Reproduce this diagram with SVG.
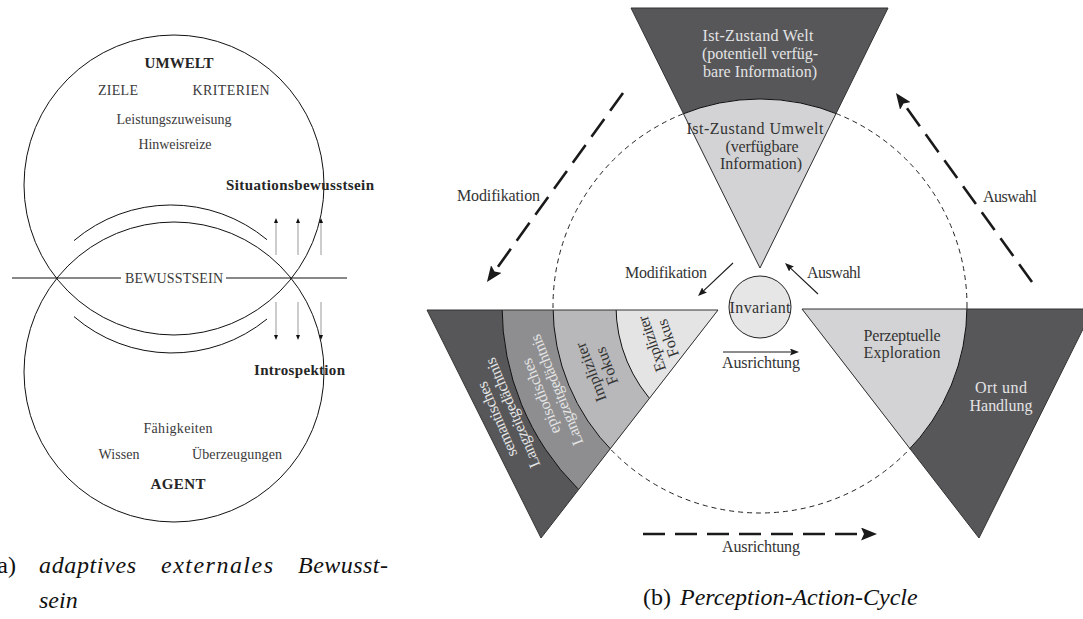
<svg xmlns="http://www.w3.org/2000/svg" width="1083" height="619" viewBox="0 0 1083 619">
<style>
text{font-family:"Liberation Serif","Times New Roman",serif;}
.l{font-size:14px;fill:#3a3a3a;text-anchor:middle}
.lb{font-size:15px;fill:#262626;font-weight:bold}
.r{font-size:16px;fill:#333;text-anchor:middle}
.rw{font-size:16px;fill:#e4e4e4;text-anchor:middle}
.ln{fill:none;stroke:#111;stroke-width:1}
.cap{font-size:24px;fill:#111}
.dash{fill:none;stroke:#1a1a1a;stroke-width:2.6;stroke-dasharray:22 10}
.sa{fill:none;stroke:#1a1a1a;stroke-width:1.1}
.ga{fill:none;stroke:#999;stroke-width:1}
.tri{fill:none;stroke:#333;stroke-width:1}
</style>
<defs>
<marker id="hB" markerUnits="userSpaceOnUse" markerWidth="17" markerHeight="13" refX="6" refY="6.5" orient="auto"><path d="M0,0 L16,6.5 L0,13 L3,6.5 z" fill="#1a1a1a"/></marker>
<marker id="hS" markerUnits="userSpaceOnUse" markerWidth="9" markerHeight="7" refX="3" refY="3.5" orient="auto"><path d="M0,0 L9,3.5 L0,7 L1.5,3.5 z" fill="#1a1a1a"/></marker>
<marker id="hT" markerUnits="userSpaceOnUse" markerWidth="5" markerHeight="4" refX="1" refY="2" orient="auto"><path d="M0,0 L5,2 L0,4 z" fill="#111"/></marker>
<clipPath id="cL"><polygon points="427,310 718,310 541,538"/></clipPath>
<clipPath id="cT"><polygon points="631,8 888,8 760,268"/></clipPath>
<clipPath id="cR"><polygon points="802,309 1093,309 979,538"/></clipPath>
</defs>
<rect width="1083" height="619" fill="#fff"/>

<!-- (a) left diagram -->
<g id="umwelt">
<circle cx="174" cy="185" r="150" class="ln"/>
<text class="lb" x="179" y="68" text-anchor="middle" textLength="69">UMWELT</text>
<text class="l" x="118" y="95" textLength="40">ZIELE</text>
<text class="l" x="231" y="95" textLength="77">KRITERIEN</text>
<text class="l" x="174" y="124" textLength="115">Leistungszuweisung</text>
<text class="l" x="175" y="149" textLength="73">Hinweisreize</text>
</g>
<g id="agent">
<circle cx="174" cy="372" r="150" class="ln"/>
<text class="l" x="178" y="433" textLength="69">Fähigkeiten</text>
<text class="l" x="119" y="459" textLength="41">Wissen</text>
<text class="l" x="237" y="459" textLength="90">Überzeugungen</text>
<text class="lb" x="178" y="489" text-anchor="middle" textLength="55">AGENT</text>
</g>
<g id="bewusstsein">
<path d="M74,240.6 A150,150 0 0 1 267,239.7" class="ln"/>
<path d="M74,316.6 A150,150 0 0 0 267,319" class="ln"/>
<path d="M12,278 H121 M226,278 H347" class="ln"/>
<text class="l" x="174" y="283" textLength="98">BEWUSSTSEIN</text>
</g>
<g id="situationsbewusstsein">
<text class="lb" x="226" y="190" textLength="148">Situationsbewusstsein</text>
</g>
<g id="introspektion">
<text class="lb" x="254" y="375" textLength="91">Introspektion</text>
</g>
<g id="caption-a">
<text class="cap" x="16" y="573" text-anchor="end">(a)</text>
<text class="cap" x="39" y="573" font-style="italic" textLength="97">adaptives</text>
<text class="cap" x="161" y="573" font-style="italic" textLength="112">externales</text>
<text class="cap" x="298" y="573" font-style="italic" textLength="90">Bewusst-</text>
<text class="cap" x="39" y="608" font-style="italic">sein</text>
</g>

<!-- (b) right diagram -->
<circle id="cycle" cx="760" cy="306" r="207" fill="none" stroke="#222" stroke-width="1" stroke-dasharray="5 4"/>

<g id="welt">
<g clip-path="url(#cT)">
<rect x="625" y="0" width="270" height="275" fill="#57575a"/>
<circle cx="760" cy="306" r="207" fill="#d3d3d5" stroke="#111" stroke-width="1"/>
</g>
<polygon points="631,8 888,8 760,268" class="tri"/>
<text class="rw" x="758" y="41" textLength="111">Ist-Zustand Welt</text>
<text class="rw" x="760" y="59" textLength="116">(potentiell verfüg-</text>
<text class="rw" x="760" y="77" textLength="114">bare Information)</text>
<text class="r" x="755" y="134" textLength="137">Ist-Zustand Umwelt</text>
<text class="r" x="762" y="152" textLength="73">(verfügbare</text>
<text class="r" x="761" y="169" textLength="82">Information)</text>
</g>

<g id="gedaechtnis">
<g clip-path="url(#cL)">
<rect x="420" y="300" width="310" height="250" fill="#57575a"/>
<circle cx="760" cy="306" r="258" fill="#8e8e90" stroke="#111" stroke-width="1"/>
<circle cx="760" cy="306" r="207" fill="#b8b8ba" stroke="#111" stroke-width="1"/>
<circle cx="760" cy="306" r="144" fill="#e4e4e5" stroke="#111" stroke-width="1"/>
</g>
<polygon points="427,310 718,310 541,538" class="tri"/>
<g transform="translate(505,416) rotate(-113)">
<text class="rw" x="0" y="-3.5" textLength="80">semantisches</text>
<text class="rw" x="0" y="13.5" textLength="118">Langzeitgedächtnis</text>
</g>
<g transform="translate(549,393) rotate(-112)">
<text class="rw" x="0" y="-3.5" textLength="80">episodisches</text>
<text class="rw" x="0" y="13.5" textLength="118">Langzeitgedächtnis</text>
</g>
<g transform="translate(599,369) rotate(-111)">
<text class="r" x="0" y="-3.5" textLength="62">Impliziter</text>
<text class="r" x="0" y="13.5">Fokus</text>
</g>
<g transform="translate(660,341) rotate(-109)">
<text class="r" x="0" y="-3.5" textLength="58">Expliziter</text>
<text class="r" x="0" y="13.5">Fokus</text>
</g>
</g>

<g id="handlung">
<g clip-path="url(#cR)">
<rect x="795" y="300" width="300" height="245" fill="#57575a"/>
<circle cx="760" cy="306" r="207" fill="#d3d3d5" stroke="#111" stroke-width="1"/>
</g>
<polygon points="802,309 1093,309 979,538" class="tri"/>
<text class="r" x="902" y="341" textLength="77">Perzeptuelle</text>
<text class="r" x="902" y="358" textLength="77">Exploration</text>
<text class="rw" x="1001" y="393" textLength="52">Ort und</text>
<text class="rw" x="1001" y="411" textLength="63">Handlung</text>
</g>

<g id="invariant">
<circle cx="760" cy="307" r="31" fill="#e6e6e7" stroke="#222" stroke-width="1"/>
<text class="r" x="760" y="313" textLength="61">Invariant</text>
</g>

<g id="connectors">
<line x1="276" y1="255" x2="276" y2="222" class="ga" marker-end="url(#hT)"/>
<line x1="298" y1="255" x2="298" y2="222" class="ga" marker-end="url(#hT)"/>
<line x1="321" y1="255" x2="321" y2="222" class="ga" marker-end="url(#hT)"/>
<line x1="276" y1="302" x2="276" y2="336" class="ga" marker-end="url(#hT)"/>
<line x1="298" y1="302" x2="298" y2="336" class="ga" marker-end="url(#hT)"/>
<line x1="321" y1="302" x2="321" y2="336" class="ga" marker-end="url(#hT)"/>

<line x1="623" y1="93" x2="492.8" y2="273.9" class="dash" marker-end="url(#hB)"/>
<line x1="1032" y1="282" x2="901.8" y2="101.1" class="dash" marker-end="url(#hB)"/>
<line x1="643" y1="534" x2="867" y2="534" class="dash" marker-end="url(#hB)"/>

<line x1="733" y1="263" x2="702.4" y2="291.9" class="sa" marker-end="url(#hS)"/>
<line x1="818" y1="294" x2="789.4" y2="267.1" class="sa" marker-end="url(#hS)"/>
<line x1="723" y1="352" x2="793" y2="352" class="sa" marker-end="url(#hS)"/>

<text class="r" x="498.5" y="201" textLength="83">Modifikation</text>
<text class="r" x="1010" y="202" textLength="54">Auswahl</text>
<text class="r" x="761" y="552" textLength="78">Ausrichtung</text>
<text class="r" x="666" y="278" textLength="82">Modifikation</text>
<text class="r" x="834" y="278" textLength="54">Auswahl</text>
<text class="r" x="761" y="368" textLength="78">Ausrichtung</text>
</g>

<g id="caption-b">
<text class="cap" x="643" y="605">(b)</text>
<text class="cap" x="680" y="605" font-style="italic">Perception-Action-Cycle</text>
</g>
</svg>
